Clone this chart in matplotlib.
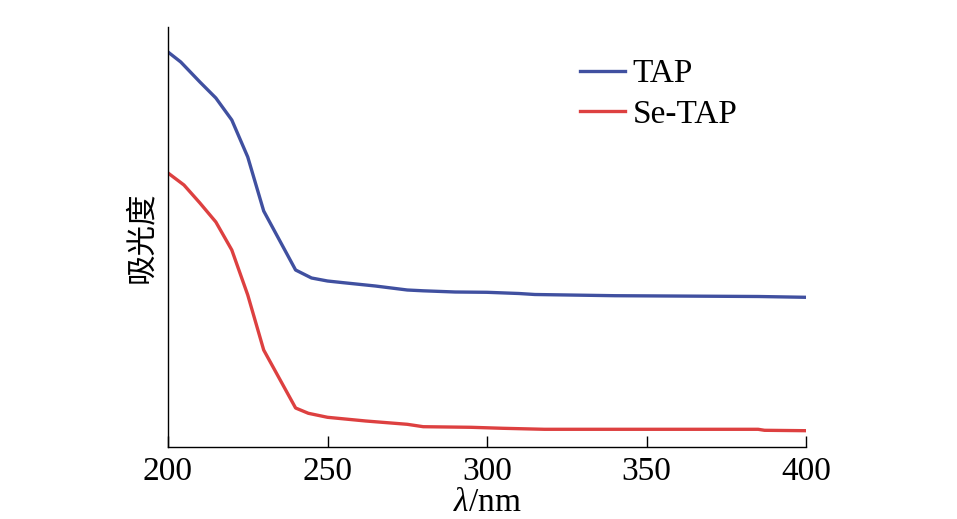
import matplotlib
matplotlib.use("Agg")
import matplotlib.pyplot as plt

# data (absorbance, arbitrary units)
tap_x = [200, 204, 210, 215, 220, 225, 230, 240, 245, 250, 255, 265, 275, 280, 290,
         300, 310, 315, 340, 385, 400]
tap_y = [3.95, 3.85, 3.65, 3.49, 3.27, 2.90, 2.36, 1.77, 1.69, 1.66, 1.643, 1.61,
         1.57, 1.562, 1.55, 1.547, 1.535, 1.525, 1.513, 1.505, 1.497]
se_x = [200, 205, 210, 215, 220, 225, 230, 240, 244, 250, 262, 275, 280, 295,
        305, 318, 385, 387, 400]
se_y = [2.74, 2.62, 2.44, 2.25, 1.97, 1.52, 0.97, 0.39, 0.337, 0.297, 0.26, 0.227,
        0.203, 0.197, 0.187, 0.177, 0.177, 0.167, 0.163]
xticks = [200, 250, 300, 350, 400]
labels = ["TAP", "Se-TAP"]

plt.rcParams['font.family'] = ['Liberation Serif', 'Noto Sans CJK SC', 'DejaVu Sans']
plt.rcParams['mathtext.fontset'] = 'custom'
plt.rcParams['mathtext.it'] = 'Liberation Serif:italic'
plt.rcParams['mathtext.rm'] = 'Liberation Serif'

fig = plt.figure(figsize=(9.57, 5.19), dpi=100)
ax = fig.add_axes([168/957, 1-447/519, (806-168)/957, (447-27)/519])

ax.plot(tap_x, tap_y, color='#4050a0', lw=2.4, label=labels[0])
ax.plot(se_x, se_y, color='#dd4040', lw=2.4, label=labels[1])

ax.set_xlim(200, 400)
ax.set_ylim(0, 4.2)
ax.set_xticks(xticks)
ax.set_yticks([])
ax.tick_params(axis='x', direction='in', length=8, width=1, labelsize=24, pad=7)
for s in ['top', 'right']:
    ax.spines[s].set_visible(False)
for s in ['left', 'bottom']:
    ax.spines[s].set_linewidth(1.0)

ax.set_xlabel(r'$\mathit{\lambda}$/nm', fontsize=24, labelpad=0)
ax.set_ylabel('吸光度', fontsize=22, family=['Noto Sans CJK SC'], labelpad=8)

leg = ax.legend(loc='upper left', bbox_to_anchor=(580/957, 1-59/519),
                bbox_transform=fig.transFigure, frameon=False, fontsize=24,
                handlelength=1.36, handletextpad=0.22, labelspacing=0.3,
                borderaxespad=0, borderpad=0)

fig.savefig('out.png', dpi=100)
